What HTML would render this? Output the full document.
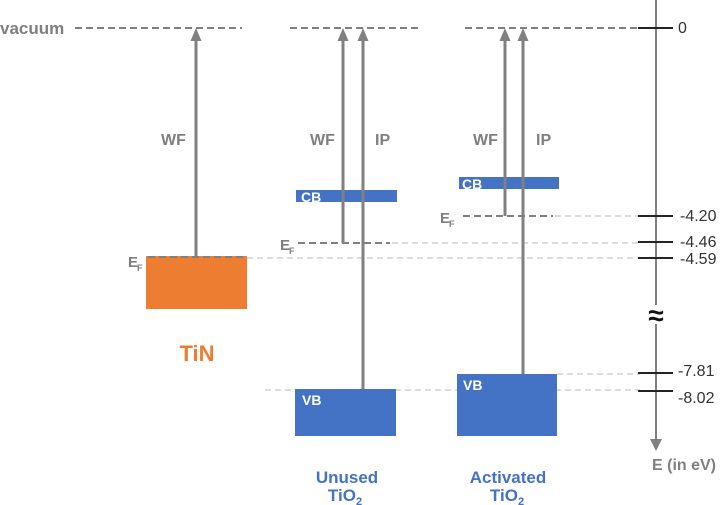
<!DOCTYPE html>
<html><head><meta charset="utf-8"><style>
html,body{margin:0;padding:0;background:#fff;}
svg{display:block;}
text{font-family:"Liberation Sans",sans-serif;}
</style></head><body>
<svg width="720" height="505" viewBox="0 0 720 505" xmlns="http://www.w3.org/2000/svg">
<!-- light guide lines -->
<g stroke="#dcdcdc" stroke-width="2" stroke-dasharray="6,4" fill="none">
<line x1="247" y1="258" x2="640" y2="258"/>
<line x1="392" y1="243" x2="640" y2="243"/>
<line x1="555" y1="216" x2="640" y2="216"/>
<line x1="265" y1="390" x2="640" y2="390"/>
<line x1="557" y1="374" x2="640" y2="374"/>
</g>
<!-- boxes -->
<rect x="146" y="256" width="101" height="53" fill="#ED7D31"/>
<rect x="296" y="190" width="101" height="12" fill="#4472C4"/>
<rect x="295" y="389" width="101" height="47" fill="#4472C4"/>
<rect x="459" y="177" width="100" height="12" fill="#4472C4"/>
<rect x="457" y="374" width="100" height="62" fill="#4472C4"/>
<!-- dark dashed lines -->
<g stroke="#7f7f7f" stroke-width="2" stroke-dasharray="7,4" fill="none">
<line x1="75" y1="28" x2="242" y2="28"/>
<line x1="290" y1="28" x2="418" y2="28"/>
<line x1="465" y1="28" x2="640" y2="28"/>
<line x1="148" y1="257" x2="246" y2="257"/>
<line x1="298" y1="243" x2="390" y2="243"/>
<line x1="463" y1="216" x2="553" y2="216"/>
</g>
<!-- arrows -->
<g stroke="#808080" stroke-width="3">
<line x1="196" y1="257" x2="196" y2="38"/>
<line x1="343" y1="243" x2="343" y2="38"/>
<line x1="363" y1="389" x2="363" y2="38"/>
<line x1="505" y1="216" x2="505" y2="38"/>
<line x1="523" y1="374" x2="523" y2="38"/>
</g>
<g fill="#808080">
<polygon points="196,28 190.5,41 201.5,41"/>
<polygon points="343,28 337.5,41 348.5,41"/>
<polygon points="363,28 357.5,41 368.5,41"/>
<polygon points="505,28 499.5,41 510.5,41"/>
<polygon points="523,28 517.5,41 528.5,41"/>
</g>
<!-- axis -->
<line x1="656" y1="0" x2="656" y2="440" stroke="#808080" stroke-width="2"/>
<polygon points="656,451 650,439 662,439" fill="#808080"/>
<g stroke="#222" stroke-width="2">
<line x1="638" y1="28" x2="673" y2="28"/>
<line x1="638" y1="216" x2="673" y2="216"/>
<line x1="638" y1="242" x2="673" y2="242"/>
<line x1="638" y1="258" x2="673" y2="258"/>
<line x1="638" y1="373" x2="673" y2="373"/>
<line x1="638" y1="391" x2="673" y2="391"/>
</g>
<rect x="647" y="305" width="18" height="19" fill="#fff"/>
<text x="656" y="325" font-size="28" font-weight="bold" fill="#111" text-anchor="middle">≈</text>
<!-- axis labels -->
<g font-size="16" fill="#333">
<text x="678" y="33">0</text>
<text x="680" y="221">-4.20</text>
<text x="680" y="247">-4.46</text>
<text x="680" y="264">-4.59</text>
<text x="678" y="376">-7.81</text>
<text x="678" y="403">-8.02</text>
</g>
<text x="652" y="470" font-size="16" font-weight="bold" fill="#808080">E (in eV)</text>
<!-- vacuum / WF / IP -->
<g font-weight="bold" fill="#7f7f7f">
<text x="0" y="34" font-size="17">vacuum</text>
<text x="161" y="145" font-size="16">WF</text>
<text x="310" y="145" font-size="16">WF</text>
<text x="375" y="145" font-size="16">IP</text>
<text x="473" y="145" font-size="16">WF</text>
<text x="536" y="145" font-size="16">IP</text>
<text x="128" y="267" font-size="15">E</text><text x="137" y="271" font-size="9">F</text>
<text x="280" y="250" font-size="15">E</text><text x="289" y="254" font-size="9">F</text>
<text x="440" y="223" font-size="15">E</text><text x="449" y="227" font-size="9">F</text>
</g>
<!-- band labels -->
<g font-weight="bold" fill="#fff" font-size="14">
<text x="301" y="202">CB</text>
<text x="462" y="189">CB</text>
<text x="302" y="405">VB</text>
<text x="463" y="390">VB</text>
</g>
<!-- material labels -->
<text x="197" y="361" font-size="22" font-weight="bold" fill="#ED7D31" text-anchor="middle">TiN</text>
<g font-weight="bold" fill="#4472C4" font-size="17" text-anchor="middle">
<text x="347" y="483">Unused</text>
<text x="345" y="501">TiO<tspan font-size="11" dy="4">2</tspan></text>
<text x="508" y="483">Activated</text>
<text x="507" y="501">TiO<tspan font-size="11" dy="4">2</tspan></text>
</g>
</svg>
</body></html>
